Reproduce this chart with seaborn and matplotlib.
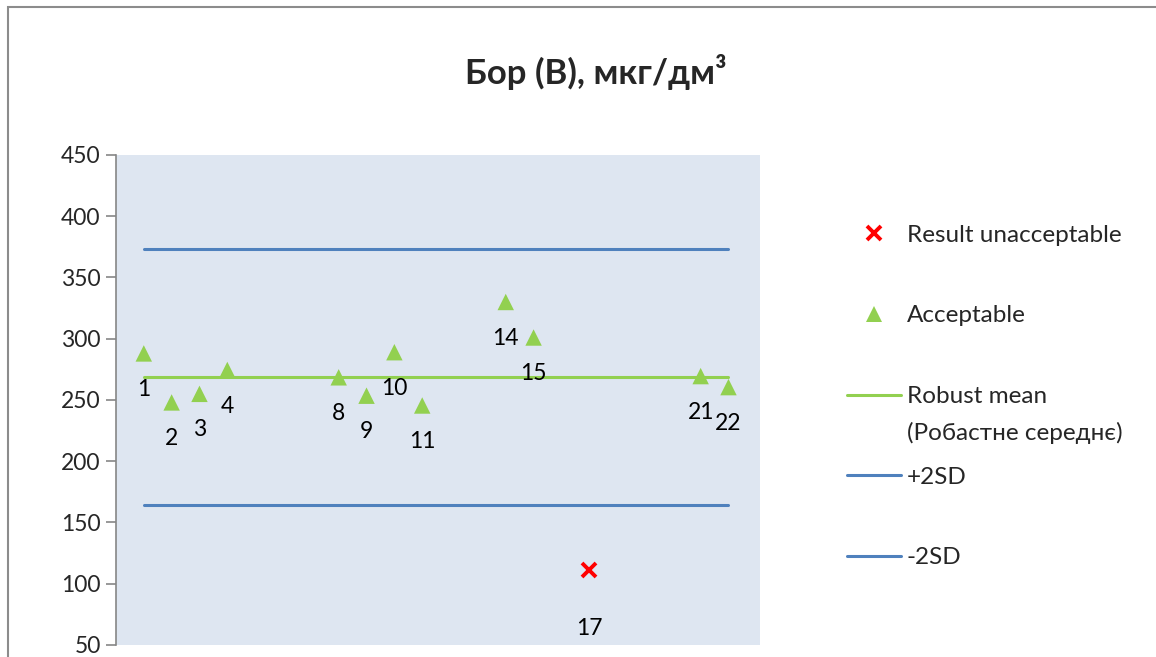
import numpy as np
import pandas as pd
import matplotlib
matplotlib.use("Agg")
import matplotlib.pyplot as plt
from matplotlib.lines import Line2D
from matplotlib.patches import Rectangle
from matplotlib.text import Annotation
import seaborn as sns

# participant codes and results, mcg/dm3
participants = [1, 2, 3, 4, 8, 9, 10, 11, 14, 15, 17, 21, 22]
results = [288, 248, 255, 274.5, 268.5, 253.5, 289, 245.5, 330, 301, 111, 269.5, 260.5]
unacceptable = [17]
robust_mean = 269
upper_2sd = 373.3
lower_2sd = 164
line_x = [1, 22]
y_ticks = [50, 100, 150, 200, 250, 300, 350, 400, 450]
title = "Бор (B), мкг/дм³"
legend_labels = ['Result unacceptable', 'Acceptable', 'Robust mean', '+2SD', '-2SD']
mean_label_line2 = '(Робастне середнє)'

sns.set_style("white")
plt.rcParams['font.family'] = ['Lato', 'Open Sans', 'DejaVu Sans']

df = pd.DataFrame({'participant': participants, 'result': results})
df['status'] = np.where(df['participant'].isin(unacceptable), 'bad', 'ok')

green = '#92D050'
blue = '#4F81BD'
red = '#FF0000'

fig = plt.figure(figsize=(11.56, 6.57), dpi=100)
ax = fig.add_axes([0.1003, 0.0183, 0.5571, 0.7458])
ax.set_facecolor('#DEE6F1')

lines = pd.DataFrame({'x': line_x * 3,
                      'y': [robust_mean] * 2 + [upper_2sd] * 2 + [lower_2sd] * 2,
                      'kind': ['mean'] * 2 + ['up'] * 2 + ['low'] * 2})
sns.lineplot(data=lines, x='x', y='y', hue='kind', ax=ax, legend=False,
             palette={'mean': green, 'up': blue, 'low': blue}, linewidth=2.2)

ok = df[df['status'] == 'ok']
bad = df[df['status'] == 'bad']
sns.scatterplot(data=ok, x='participant', y='result', ax=ax, marker='^', s=140,
                color=green, edgecolor='none', zorder=3)
ax.plot(bad['participant'], bad['result'], linestyle='none', marker='x',
        markersize=9.5, markeredgewidth=2.8, color=red, zorder=3)

for p, r in zip(participants, results):
    off = -42 if p in unacceptable else -26
    ax.annotate(str(p), (p, r), xytext=(0, off), textcoords='offset points',
                ha='center', va='center', fontsize=16.5, color='black')

ax.set_xlim(0, 23.13)
ax.set_ylim(50, 450)
ax.set_yticks(y_ticks)
ax.set_xticks([])
ax.set_xlabel('')
ax.set_ylabel('')
ax.tick_params(axis='y', labelsize=16.5, length=7, width=1.2, color='#868686',
               direction='out', left=True, pad=4)
for s in ['top', 'right', 'bottom']:
    ax.spines[s].set_visible(False)
ax.spines['left'].set_color('#868686')
ax.spines['left'].set_linewidth(1.2)

fig.text(0.515, 0.89, title, ha='center', va='center', fontsize=25,
         fontweight='bold')

handles = [
    Line2D([], [], linestyle='none', marker='x', color=red, markersize=9.5,
           markeredgewidth=2.8),
    Line2D([], [], linestyle='none', marker='^', color=green, markersize=11,
           markeredgewidth=0),
    Line2D([], [], color=green, linewidth=2.2),
    Line2D([], [], color=blue, linewidth=2.2),
    Line2D([], [], color=blue, linewidth=2.2),
]
leg = fig.legend(handles, legend_labels, loc='upper left',
                 bbox_to_anchor=(0.714, 0.691), frameon=False, fontsize=17.5,
                 labelspacing=2.45, handlelength=2.2, handletextpad=0.25)
# second line of the robust-mean entry sits under its first line
second = Annotation(mean_label_line2, xy=(0, 0.5), xycoords=leg.get_texts()[2],
                    xytext=(0, -36), textcoords='offset pixels', ha='left',
                    va='center', fontsize=17.5, zorder=10)
fig.add_artist(second)

fig.add_artist(Rectangle((8 / 1156, -0.5), 2, 0.5 + 1 - 7 / 657,
                         transform=fig.transFigure, fill=False,
                         edgecolor='#8C8C8C', linewidth=1.5))

fig.draw_without_rendering()
fig.savefig('out.png', dpi=100)
